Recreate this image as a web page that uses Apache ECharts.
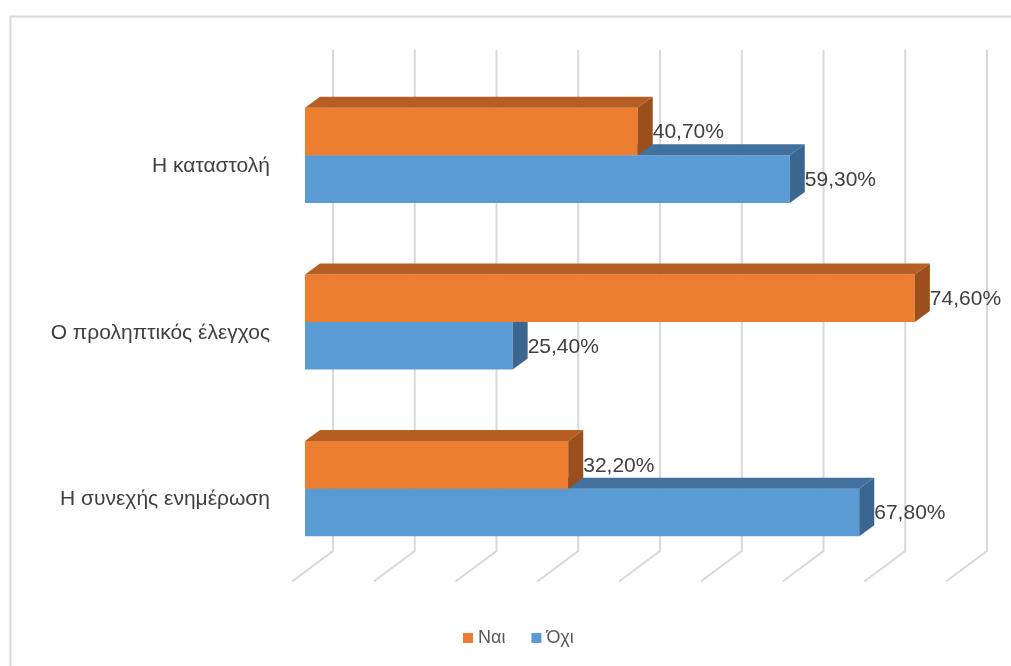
<!DOCTYPE html>
<html>
<head>
<meta charset="utf-8">
<script src="https://cdn.jsdelivr.net/npm/echarts@6/dist/echarts.min.js"></script>
<style>
  html, body { margin: 0; padding: 0; background: #ffffff; }
  #chart { width: 1011px; height: 666px; }
</style>
</head>
<body>
<div id="chart"></div>
<script>
// Survey answers per measure (percent)
const categories = ['Η καταστολή', 'Ο προληπτικός έλεγχος', 'Η συνεχής ενημέρωση'];
const seriesNames = ['Ναι', 'Όχι'];
const yesValues = [40.7, 74.6, 32.2];
const noValues = [59.3, 25.4, 67.8];
const ticks = [0, 10, 20, 30, 40, 50, 60, 70, 80];

const FONT = '"Liberation Sans", Arial, sans-serif';

// 3D depth of each bar (screen offset of the back edge)
const BAR_DX = 15, BAR_DY = -11;
// share of the category band taken by one bar face
const BAR_FRAC = 47.5 / 166.5;

const palette = {
  yes: { front: '#ED7D31', top: '#B65E24', side: '#9A4F1C' },
  no:  { front: '#5B9BD5', top: '#41719C', side: '#3A6690' }
};

function fmt(v) {
  return v.toFixed(2).replace('.', ',') + '%';
}

function barRenderer(colors, upper) {
  return function (params, api) {
    const cat = api.value(0);
    const val = api.value(1);
    const p0 = api.coord([0, cat]);
    const p1 = api.coord([val, cat]);
    const band = api.size([0, 1])[1];
    const h = band * BAR_FRAC;
    const x0 = p0[0], x1 = p1[0];
    const yT = upper ? p0[1] - h : p0[1];
    const yB = yT + h;
    return {
      type: 'group',
      children: [
        { type: 'rect', shape: { x: x0, y: yT, width: x1 - x0, height: h },
          style: { fill: colors.front } },
        { type: 'polygon', shape: { points: [[x0, yT], [x0 + BAR_DX, yT + BAR_DY], [x1 + BAR_DX, yT + BAR_DY], [x1, yT]] },
          style: { fill: colors.top } },
        { type: 'polygon', shape: { points: [[x1, yT], [x1 + BAR_DX, yT + BAR_DY], [x1 + BAR_DX, yB + BAR_DY], [x1, yB]] },
          style: { fill: colors.side } },
        { type: 'text', x: x1 + BAR_DX, y: (yT + yB) / 2 + 1,
          style: { text: fmt(val), fill: '#404040', font: '21px ' + FONT,
                   textAlign: 'left', textVerticalAlign: 'middle' } }
      ]
    };
  };
}

// back wall gridlines folding onto the floor
function wallRenderer(params, api) {
  const v = api.value(0);
  const cs = params.coordSys;
  const x = api.coord([v, 0])[0];
  const top = cs.y, bottom = cs.y + cs.height;
  return {
    type: 'polyline',
    shape: { points: [[x + 28, top - 22], [x + 28, bottom - 21], [x - 13, bottom + 9.5]] },
    style: { stroke: '#D9D9D9', lineWidth: 2, fill: null }
  };
}

const chart = echarts.init(document.getElementById('chart'), null, { renderer: 'canvas' });
chart.setOption({
  backgroundColor: '#ffffff',
  animation: false,
  graphic: [{
    type: 'rect', left: 8, top: 14,
    shape: { width: 1100, height: 700 },
    style: { fill: null, stroke: '#D9D9D9', lineWidth: 2 },
    silent: true, z: -10
  }],
  grid: { left: 305, right: 52, top: 72, bottom: 94, containLabel: false },
  xAxis: {
    type: 'value', min: 0, max: 80, interval: 10,
    show: false, splitLine: { show: false }
  },
  yAxis: {
    type: 'category', data: categories, inverse: true,
    axisLine: { show: false }, axisTick: { show: false }, splitLine: { show: false },
    axisLabel: {
      color: '#404040', fontFamily: FONT, fontSize: 21,
      margin: 35, verticalAlign: 'top', lineHeight: 22
    }
  },
  legend: {
    data: seriesNames,
    left: 458, top: 624,
    icon: 'rect', itemWidth: 10, itemHeight: 10, itemGap: 26,
    textStyle: { color: '#595959', fontFamily: FONT, fontSize: 18 }
  },
  series: [
    {
      type: 'custom', name: 'wall', silent: true, z: 1,
      data: ticks.map(t => [t, 0]),
      encode: { x: 0, y: 1 },
      renderItem: wallRenderer
    },
    {
      type: 'custom', name: seriesNames[1], z: 2,
      itemStyle: { color: palette.no.front },
      data: noValues.map((v, i) => [i, v]),
      encode: { x: 1, y: 0 },
      renderItem: barRenderer(palette.no, false)
    },
    {
      type: 'custom', name: seriesNames[0], z: 3,
      itemStyle: { color: palette.yes.front },
      data: yesValues.map((v, i) => [i, v]),
      encode: { x: 1, y: 0 },
      renderItem: barRenderer(palette.yes, true)
    }
  ]
});
</script>
</body>
</html>
